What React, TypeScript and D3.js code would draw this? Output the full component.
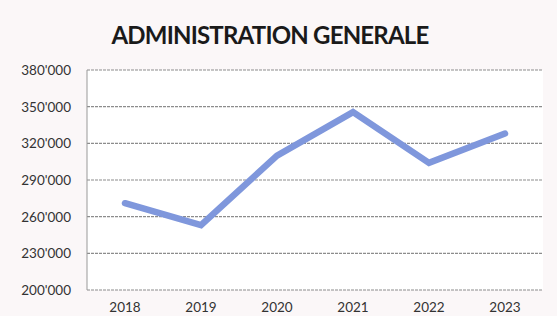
import React, { useEffect, useRef } from 'react';
import * as d3 from 'd3';

const years = ['2018', '2019', '2020', '2021', '2022', '2023'];
const values = [271000, 253000, 310000, 345500, 304000, 328000];
const yTicks = [200000, 230000, 260000, 290000, 320000, 350000, 380000];

function App() {
  const ref = useRef<SVGSVGElement>(null);

  useEffect(() => {
    if (!ref.current) return;
    const width = 557;
    const height = 316;
    const margin = { top: 70, right: 14, bottom: 26, left: 87 };

    const svg = d3.select(ref.current);
    svg.selectAll('*').remove();

    svg.append('rect')
      .attr('width', width)
      .attr('height', height)
      .attr('fill', '#fbf7f8');

    const x = d3.scaleBand()
      .domain(years)
      .range([margin.left, width - margin.right]);

    const y = d3.scaleLinear()
      .domain([200000, 380000])
      .range([height - margin.bottom, margin.top]);

    // plot background
    svg.append('rect')
      .attr('x', margin.left)
      .attr('y', margin.top)
      .attr('width', width - margin.right - margin.left)
      .attr('height', y(200000) - margin.top)
      .attr('fill', '#ffffff');

    // title
    svg.append('text')
      .attr('x', 270)
      .attr('y', 44)
      .attr('text-anchor', 'middle')
      .style('font-family', 'Lato, sans-serif')
      .style('font-weight', 'bold')
      .style('font-size', '24px')
      .style('letter-spacing', '-0.8px')
      .attr('fill', '#1a1a1a')
      .text('ADMINISTRATION GENERALE');

    // gridlines
    svg.append('g')
      .selectAll('line')
      .data(yTicks)
      .join('line')
      .attr('x1', margin.left)
      .attr('x2', width - margin.right)
      .attr('y1', d => y(d))
      .attr('y2', d => y(d))
      .attr('stroke', '#8c8c8c')
      .attr('stroke-width', 1.2)
      .attr('stroke-dasharray', '3,1');

    // left axis line
    svg.append('line')
      .attr('x1', margin.left)
      .attr('x2', margin.left)
      .attr('y1', margin.top)
      .attr('y2', y(200000))
      .attr('stroke', '#999')
      .attr('stroke-width', 1);

    // y labels
    svg.append('g')
      .selectAll('text')
      .data(yTicks)
      .join('text')
      .attr('x', 71)
      .attr('y', d => y(d) + 5)
      .attr('text-anchor', 'end')
      .style('font-family', 'Lato, sans-serif')
      .style('font-size', '13.5px')
      .attr('fill', '#333')
      .text(d => d3.format(',')(d).replace(',', "'"));

    // x labels
    svg.append('g')
      .selectAll('text')
      .data(years)
      .join('text')
      .attr('x', d => (x(d) ?? 0) + x.bandwidth() / 2)
      .attr('y', 312)
      .attr('text-anchor', 'middle')
      .style('font-family', 'Lato, sans-serif')
      .style('font-size', '13.5px')
      .attr('fill', '#333')
      .text(d => d);

    const line = d3.line<number>()
      .x((_, i) => (x(years[i]) ?? 0) + x.bandwidth() / 2)
      .y(d => y(d));

    svg.append('path')
      .datum(values)
      .attr('d', line)
      .attr('fill', 'none')
      .attr('stroke', '#7f97dc')
      .attr('stroke-width', 6.5)
      .attr('stroke-linecap', 'round')
      .attr('stroke-linejoin', 'miter');
  }, []);

  return (
    <svg ref={ref} width={557} height={316} style={{ position: 'absolute', left: 0, top: 0 }}></svg>
  );
}

export default App;
